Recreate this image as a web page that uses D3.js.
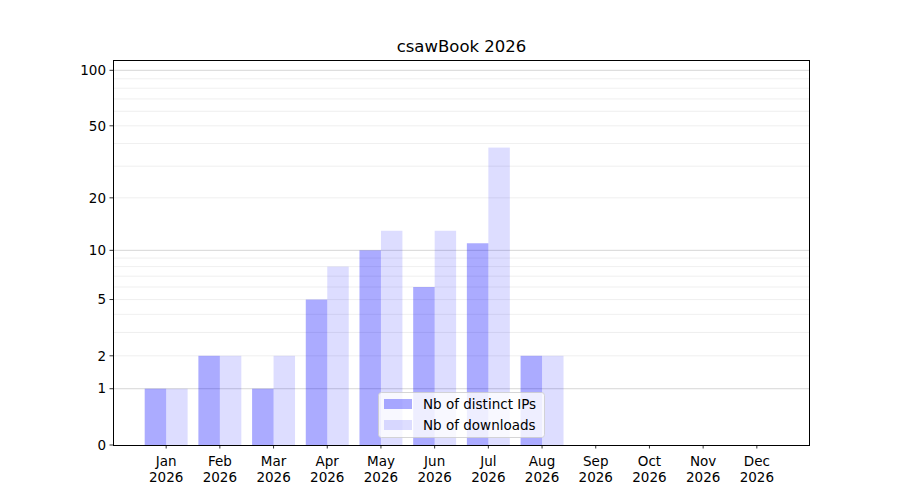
<!DOCTYPE html>
<html><head><meta charset="utf-8">
<script src="https://cdn.jsdelivr.net/npm/d3@7/dist/d3.min.js"></script>
<style>body{margin:0;background:#fff;} text{font-family:"DejaVu Sans",sans-serif;}</style>
</head><body>
<svg id="c" width="900" height="500"></svg>
<script>
const months = ["Jan","Feb","Mar","Apr","May","Jun","Jul","Aug","Sep","Oct","Nov","Dec"];
const year = "2026";
const ips = [1,2,1,5,10,6,11,2,0,0,0,0];
const downloads = [1,2,2,8,13,13,38,2,0,0,0,0];
const yTicks = [0,1,2,5,10,20,50,100];
const majorGrid = [1,10,100];
const minorGrid = [2,3,4,5,6,7,8,9,20,30,40,50,60,70,80,90];
const yMax = 113.7;

const svg = d3.select("#c");
const L=113, R=810, T=60, B=445;
const x = d3.scaleLinear().domain([-0.99, 11.99]).range([L, R]);
const tf = v => Math.log10(1+v);
const ys = d3.scaleLinear().domain([0, tf(yMax)]).range([B, T]);
const y = v => ys(tf(v));
const bw = 0.4;

// grid
svg.append("g").selectAll("line").data(minorGrid).join("line")
  .attr("x1",L).attr("x2",R).attr("y1",d=>y(d)).attr("y2",d=>y(d))
  .attr("stroke","#ebebeb").attr("stroke-width",0.8);
svg.append("g").selectAll("line").data(majorGrid).join("line")
  .attr("x1",L).attr("x2",R).attr("y1",d=>y(d)).attr("y2",d=>y(d))
  .attr("stroke","#cccccc").attr("stroke-width",0.8);

// bars
svg.append("g").selectAll("rect").data(ips).join("rect")
  .attr("x",(d,i)=>x(i-bw)).attr("width",x(bw)-x(0))
  .attr("y",d=>y(d)).attr("height",d=>B-y(d))
  .attr("fill","#0000ff").attr("fill-opacity",0.33);
svg.append("g").selectAll("rect").data(downloads).join("rect")
  .attr("x",(d,i)=>x(i)).attr("width",x(bw)-x(0))
  .attr("y",d=>y(d)).attr("height",d=>B-y(d))
  .attr("fill","#0000ff").attr("fill-opacity",0.135);

// frame
svg.append("rect").attr("x",L+0.5).attr("y",T+0.5).attr("width",R-L-1).attr("height",B-T)
  .attr("fill","none").attr("stroke","#000").attr("stroke-width",1);

// y axis
const yg = svg.append("g");
yTicks.forEach(t=>{
  yg.append("line").attr("x1",L-3.5).attr("x2",L).attr("y1",y(t)).attr("y2",y(t)).attr("stroke","#000").attr("stroke-width",0.8);
  yg.append("text").attr("x",L-7).attr("y",y(t)).attr("dy","0.35em").attr("text-anchor","end")
    .attr("font-size",13.5).text(t);
});
// x axis
const xg = svg.append("g");
months.forEach((m,i)=>{
  xg.append("line").attr("x1",x(i)).attr("x2",x(i)).attr("y1",B).attr("y2",B+3.5).attr("stroke","#000").attr("stroke-width",0.8);
  const t = xg.append("text").attr("x",x(i)).attr("y",B+20.5).attr("text-anchor","middle").attr("font-size",13.5);
  t.append("tspan").attr("x",x(i)).text(m);
  t.append("tspan").attr("x",x(i)).attr("dy",16).text(year);
});

// title
svg.append("text").attr("x",(L+R)/2).attr("y",T-8).attr("text-anchor","middle").attr("font-size",16.5).text("csawBook 2026");

// legend
const lg = svg.append("g");
lg.append("rect").attr("x",378.5).attr("y",392.5).attr("width",166).attr("height",45).attr("rx",3)
  .attr("fill","#fff").attr("fill-opacity",0.8).attr("stroke","#cccccc").attr("stroke-width",0.8);
const items = [["Nb of distinct IPs",0.33],["Nb of downloads",0.135]];
items.forEach((it,k)=>{
  const cy = 404 + k*21;
  lg.append("rect").attr("x",384).attr("y",cy-5).attr("width",28).attr("height",10)
    .attr("fill","#0000ff").attr("fill-opacity",it[1]);
  lg.append("text").attr("x",423).attr("y",cy).attr("dy","0.35em").attr("font-size",13.5).text(it[0]);
});
</script>
</body></html>
